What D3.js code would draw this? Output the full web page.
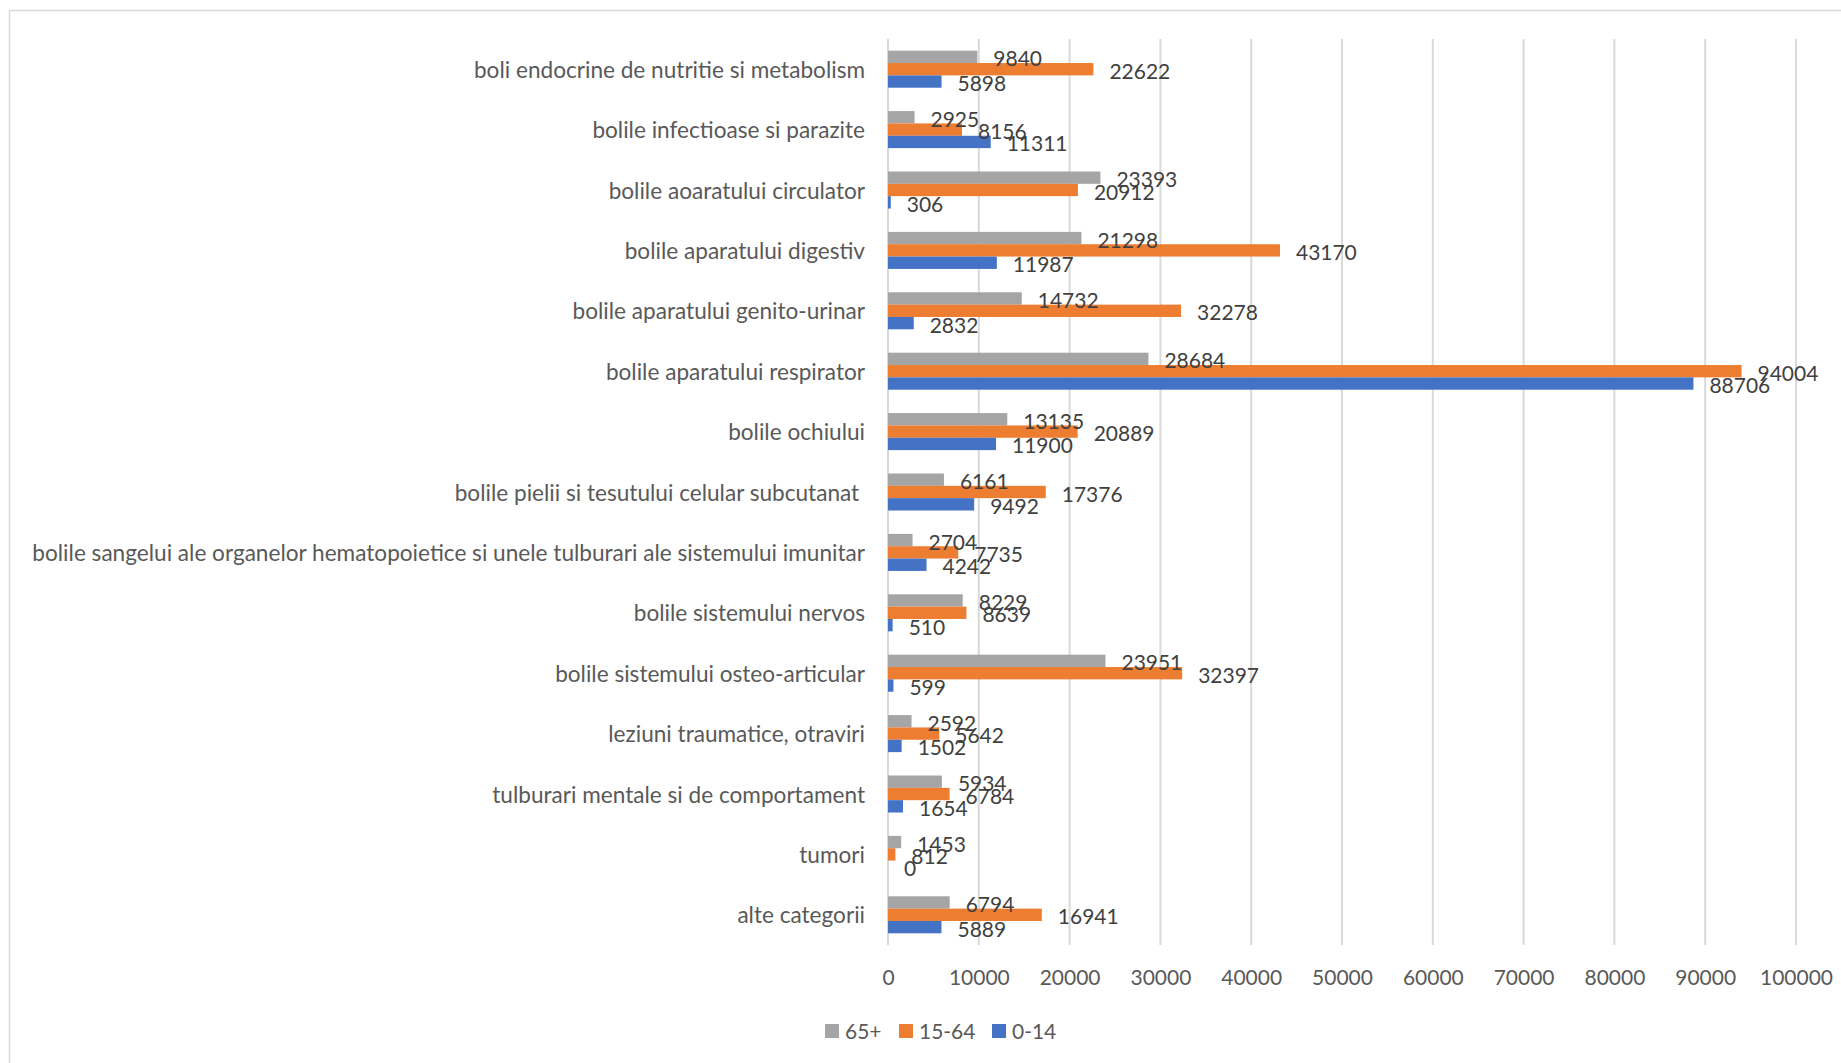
<!DOCTYPE html>
<html>
<head>
<meta charset="utf-8">
<script src="https://cdn.jsdelivr.net/npm/d3@7/dist/d3.min.js"></script>
<style>
  body { margin: 0; background: #fff; }
  svg { display: block; font-family: Lato, "Open Sans", sans-serif; }
</style>
</head>
<body>
<svg id="chart" width="1841" height="1063"></svg>
<script>
// categorii (de sus in jos)
const categories = [
  "boli endocrine de nutritie si metabolism",
  "bolile infectioase si parazite",
  "bolile aoaratului circulator",
  "bolile aparatului digestiv",
  "bolile aparatului genito-urinar",
  "bolile aparatului respirator",
  "bolile ochiului",
  "bolile pielii si tesutului celular subcutanat ",
  "bolile sangelui ale organelor hematopoietice si unele tulburari ale sistemului imunitar",
  "bolile sistemului nervos",
  "bolile sistemului osteo-articular",
  "leziuni traumatice, otraviri",
  "tulburari mentale si de comportament",
  "tumori",
  "alte categorii"
];
const seriesNames = ["65+", "15-64", "0-14"];
const v65 = [9840, 2925, 23393, 21298, 14732, 28684, 13135, 6161, 2704, 8229, 23951, 2592, 5934, 1453, 6794];
const v1564 = [22622, 8156, 20912, 43170, 32278, 94004, 20889, 17376, 7735, 8639, 32397, 5642, 6784, 812, 16941];
const v014 = [5898, 11311, 306, 11987, 2832, 88706, 11900, 9492, 4242, 510, 599, 1502, 1654, 0, 5889];
const xTicks = [0, 10000, 20000, 30000, 40000, 50000, 60000, 70000, 80000, 90000, 100000];
const colors = ["#A5A5A5", "#ED7D31", "#4472C4"];

const values = [v65, v1564, v014];
const svg = d3.select("#chart");

// chenarul graficului
svg.append("rect")
  .attr("x", 9.5).attr("y", 10.5)
  .attr("width", 1900).attr("height", 1100)
  .attr("fill", "none").attr("stroke", "#d9d9d9").attr("stroke-width", 1.5);

// potrivire marime font (Calibri nu exista)
function fitSize(text, target, base) {
  const t = svg.append("text").style("font-size", base + "px").text(text);
  const w = t.node().getComputedTextLength();
  t.remove();
  return base * target / w;
}
const catSize = fitSize(categories[8], 833, 24);
const numSize = fitSize("100000", 73, 24);

const x = d3.scaleLinear().domain([0, 100000]).range([888, 1796]);
const y = d3.scaleBand().domain(categories).range([39, 945]).paddingInner(0.387).paddingOuter(0.387 / 2);
const ySub = d3.scaleBand().domain(seriesNames).range([0, y.bandwidth()]);

// gridlines
svg.append("g").selectAll("line")
  .data(xTicks)
  .join("line")
  .attr("x1", d => x(d)).attr("x2", d => x(d))
  .attr("y1", 39).attr("y2", 945)
  .attr("stroke", "#d9d9d9").attr("stroke-width", 2);

// axa x
const xAxis = svg.append("g")
  .attr("transform", "translate(0,945)")
  .call(d3.axisBottom(x).tickValues(xTicks).tickFormat(d3.format("d")).tickSize(0).tickPadding(0));
xAxis.select(".domain").remove();
xAxis.selectAll("text")
  .attr("dy", null).attr("y", 31)
  .attr("dominant-baseline", "central")
  .attr("fill", "#595959")
  .style("font-size", numSize + "px")
  .style("font-family", "Lato, 'Open Sans', sans-serif");

// etichete categorii
const yAxis = svg.append("g")
  .attr("transform", "translate(865,0)")
  .call(d3.axisLeft(y).tickSize(0).tickPadding(0));
yAxis.select(".domain").remove();
yAxis.selectAll("text")
  .attr("dy", null)
  .attr("dominant-baseline", "central")
  .attr("fill", "#595959")
  .style("font-size", catSize + "px")
  .style("font-family", "Lato, 'Open Sans', sans-serif")
  .style("white-space", "pre");

// bare
const rows = categories.flatMap((c, i) =>
  seriesNames.map((s, j) => ({ c, s, j, v: values[j][i] })));

svg.append("g").selectAll("rect")
  .data(rows)
  .join("rect")
  .attr("x", x(0))
  .attr("y", d => y(d.c) + ySub(d.s))
  .attr("width", d => x(d.v) - x(0))
  .attr("height", ySub.bandwidth())
  .attr("fill", d => colors[d.j]);

// etichete valori (deasupra barelor)
svg.append("g").selectAll("text")
  .data(rows)
  .join("text")
  .attr("x", d => x(d.v) + 16)
  .attr("y", d => y(d.c) + ySub(d.s) + ySub.bandwidth() / 2 + 1)
  .attr("dominant-baseline", "central")
  .attr("fill", "#404040")
  .style("font-size", numSize + "px")
  .text(d => d.v);

// legenda
const legX = [825, 899, 992];
const leg = svg.append("g").selectAll("g")
  .data(seriesNames)
  .join("g")
  .attr("transform", (d, i) => `translate(${legX[i]},1024)`);
leg.append("rect").attr("width", 14).attr("height", 14).attr("fill", (d, i) => colors[i]);
leg.append("text")
  .attr("x", 20).attr("y", 6)
  .attr("dominant-baseline", "central")
  .attr("fill", "#595959")
  .style("font-size", numSize + "px")
  .text(d => d);
</script>
</body>
</html>
